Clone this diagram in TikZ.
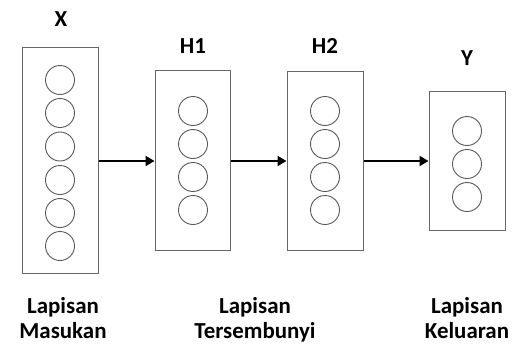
\documentclass[tikz,border=0pt]{standalone}
\usepackage{fontspec}
\setmainfont{Carlito}[BoldFont={Carlito Bold}]
\newfontfamily\cbold{Carlito Bold}
\usetikzlibrary{arrows.meta}
\begin{document}
\begin{tikzpicture}[x=1bp,y=-1bp,
  layerbox/.style={draw=black!60, line width=1bp, fill=white},
  neuron/.style={circle, draw=black!65, line width=0.9bp, minimum size=29bp, inner sep=0pt},
  conn/.style={line width=2bp, -{Triangle[length=9bp,width=10bp]}},
  lbl/.style={font=\cbold\fontsize{23}{25}\selectfont, anchor=base, inner sep=0pt},
  captxt/.style={font=\cbold\fontsize{23}{25}\selectfont, align=center, anchor=base, inner sep=0pt}]
\useasboundingbox (0,0) rectangle (522,347);
% boxes
\node[layerbox, minimum width=76bp, minimum height=226bp, inner sep=0pt] (bx) at (60,160) {};
\node[layerbox, minimum width=75bp, minimum height=180bp, inner sep=0pt] (bh1) at (192.5,160) {};
\node[layerbox, minimum width=76bp, minimum height=179bp, inner sep=0pt] (bh2) at (325,160.5) {};
\node[layerbox, minimum width=76bp, minimum height=139bp, inner sep=0pt] (by) at (467,160.5) {};
% neurons
\foreach \i/\yy in {1/80,2/113,3/146.5,4/180,5/213,6/246}
  \node[neuron] (x\i) at (60,\yy) {};
\foreach \i/\yy in {1/111,2/144,3/177,4/210}
  \node[neuron] (ha\i) at (193,\yy) {};
\foreach \i/\yy in {1/111,2/144,3/177,4/210}
  \node[neuron] (hb\i) at (325,\yy) {};
\foreach \i/\yy in {1/131,2/164,3/197}
  \node[neuron] (y\i) at (467,\yy) {};
% connectors
\draw[conn] (bx.east |- 0,161) -- (bh1.west |- 0,161);
\draw[conn] (bh1.east |- 0,161) -- (bh2.west |- 0,161);
\draw[conn] (bh2.east |- 0,161) -- (by.west |- 0,161);
% labels
\node[lbl] (lx) at (61,26) {X};
\node[lbl] (lh1) at (193,53) {H1};
\node[lbl] (lh2) at (325,53) {H2};
\node[lbl] (ly) at (467,65) {Y};
\node[captxt] (c1) at (63,338) {Lapisan\\Masukan};
\node[captxt] (c2) at (255,338) {Lapisan\\Tersembunyi};
\node[captxt] (c3) at (467,338) {Lapisan\\Keluaran};
\end{tikzpicture}
\end{document}
